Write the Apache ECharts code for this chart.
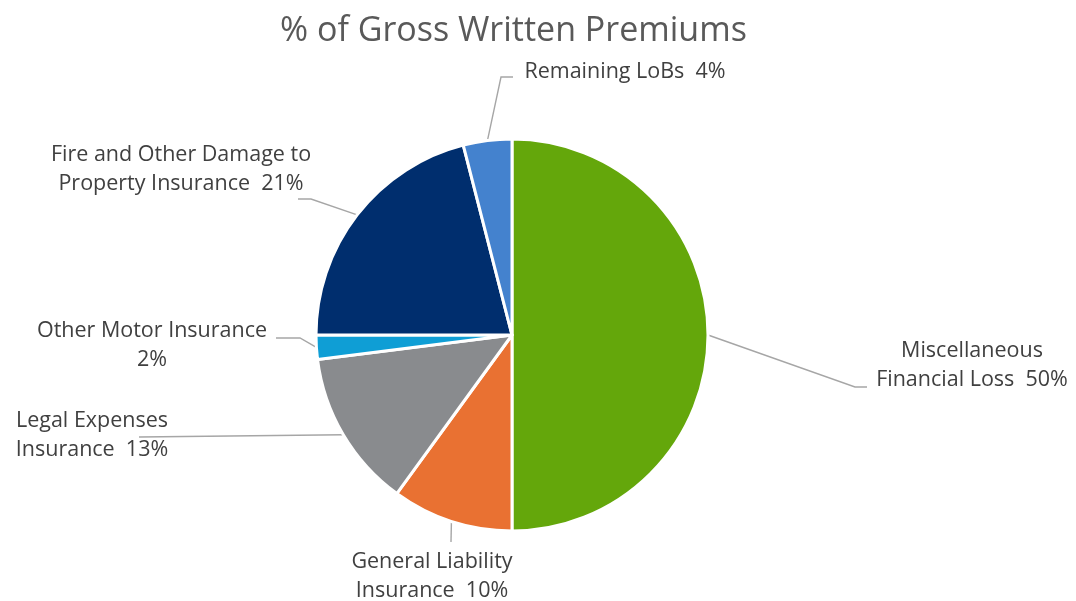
<!DOCTYPE html>
<html>
<head>
<meta charset="utf-8">
<title>% of Gross Written Premiums</title>
<script src="https://cdn.jsdelivr.net/npm/echarts@6/dist/echarts.min.js"></script>
<style>
  html, body { margin: 0; padding: 0; background: #ffffff; }
  #chart { width: 1076px; height: 601px; }
</style>
</head>
<body>
<div id="chart"></div>
<script>
// Lines of business (a trailing "\n" puts the percentage on its own line)
const categories = [
  'Miscellaneous\nFinancial Loss',
  'General Liability\nInsurance',
  'Legal Expenses\nInsurance',
  'Other Motor Insurance\n',
  'Fire and Other Damage to\nProperty Insurance',
  'Remaining LoBs'
];
// Share of gross written premiums, %
const shares = [50, 10, 13, 2, 21, 4];
const colors = ['#64A70B', '#E97132', '#898B8E', '#0F9ED5', '#002E6E', '#4482CE'];

// Where each label sits (centre of text block) and the elbow of its leader line,
// in the same order as the categories
const labelSpots = [
  { x: 972, y: 365, bend: [[855, 387], [867, 387]] },
  { x: 432, y: 576, bend: [[451, 542]] },
  { x: 92,  y: 435, bend: [[139, 437]] },
  { x: 152, y: 345, bend: [[300, 338], [276, 338]] },
  { x: 181, y: 169, bend: [[311, 199], [298, 199]] },
  { x: 625, y: 72,  bend: [[501, 77], [513, 77]] }
];

const chart = echarts.init(document.getElementById('chart'));
chart.setOption({
  animation: false,
  backgroundColor: '#ffffff',
  title: {
    text: '% of Gross Written Premiums',
    left: 275,
    top: 9,
    textStyle: {
      fontFamily: 'Open Sans',
      fontSize: 34,
      fontWeight: 'normal',
      color: '#595959'
    }
  },
  series: [{
    type: 'pie',
    center: [512, 335],
    radius: 196,
    startAngle: 90,
    clockwise: true,
    avoidLabelOverlap: false,
    itemStyle: { borderColor: '#ffffff', borderWidth: 3 },
    label: {
      show: true,
      position: 'outside',
      fontFamily: 'Open Sans',
      fontSize: 21.5,
      color: '#404040',
      lineHeight: 29,
      align: 'center',
      formatter: p => p.name + (p.name.endsWith('\n') ? '' : '  ') + Math.round(p.percent) + '%'
    },
    labelLine: {
      show: true,
      lineStyle: { color: '#A6A6A6', width: 1.4 }
    },
    labelLayout: params => {
      const spot = labelSpots[params.dataIndex];
      const start = params.labelLinePoints ? params.labelLinePoints[0] : spot.bend[0];
      return {
        x: spot.x,
        y: spot.y,
        align: 'center',
        verticalAlign: 'middle',
        labelLinePoints: [start].concat(spot.bend)
      };
    },
    emphasis: { disabled: true },
    data: categories.map((name, i) => ({
      name: name,
      value: shares[i],
      itemStyle: { color: colors[i] }
    }))
  }]
});
</script>
</body>
</html>
